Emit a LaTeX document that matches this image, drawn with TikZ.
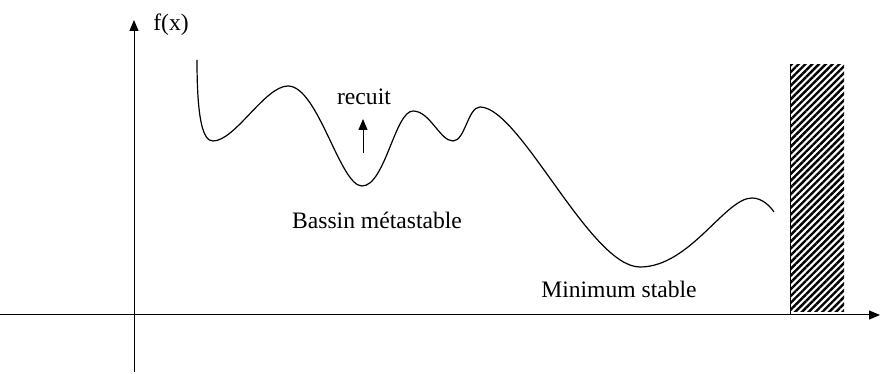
\documentclass[tikz,border=0pt]{standalone}
\usepackage{fontspec}
\setmainfont{Liberation Serif}
\usetikzlibrary{arrows.meta,patterns.meta}

\tikzset{
    lbl/.style={font=\fontsize{11.8}{14}\selectfont, inner sep=0pt},
    axis/.style={line width=0.5pt, -{Triangle[length=5.5pt,width=4.5pt]}},
}

\begin{document}
\begin{tikzpicture}[x=0.5pt, y=-0.5pt]
    \useasboundingbox (0,0) rectangle (880,374);

    % Axes
    \coordinate (xs) at (0,315);
    \coordinate (xe) at (880,315);
    \coordinate (ys) at (134,372);
    \coordinate (ye) at (134,20);
    \draw[axis] (xs) -- (xe);
    \draw[axis] (ys) -- (ye);
    \node[lbl] (fx) at (171,25) {f(x)};

    % Energy landscape
    \draw[line width=0.6pt] (197,60) .. controls (197,120) and (203,141) .. (213,141)
        .. controls (235,141) and (265,86) .. (288,86)
        .. controls (318,86) and (340,186) .. (362,186)
        .. controls (385,186) and (395,111) .. (413,111)
        .. controls (430,111) and (440,141) .. (453,141)
        .. controls (465,141) and (468,107) .. (480,107)
        .. controls (520,107) and (590,267) .. (640,267)
        .. controls (690,267) and (725,198) .. (752,198)
        .. controls (762,198) and (770,206) .. (774,212);

    % Annealing
    \node[lbl] (recuit) at (364,97) {recuit};
    \coordinate (rs) at (363,153);
    \coordinate (re) at (363,119);
    \draw[axis] (rs) -- (re);

    % Basins
    \node[lbl] (meta) at (377,220) {Bassin métastable};
    \node[lbl] (stable) at (619,289) {Minimum stable};

    % Wall
    \fill[pattern={Lines[angle=45, distance=2.4pt, line width=1.2pt]}] (790,65) rectangle (844,312);
    \draw[line width=0.5pt] (790,65) -- (790,315);

\end{tikzpicture}
\end{document}
